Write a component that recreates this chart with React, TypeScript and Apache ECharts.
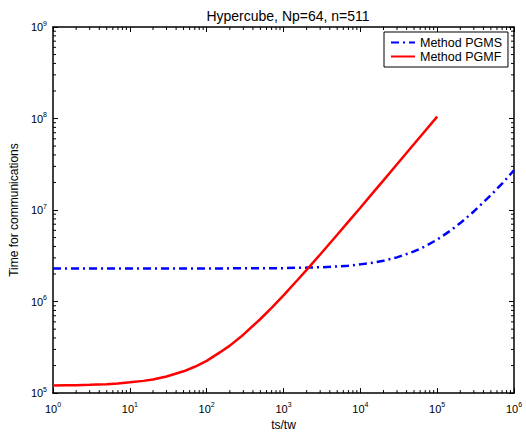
import React, { useEffect, useRef } from "react";
import * as echarts from "echarts";

const xPGMF = [1, 1.5, 2, 3, 5, 7, 10, 15, 20, 30, 50, 70, 100, 150, 200, 300, 500, 700, 1000, 1500, 2000, 3000, 5000, 7000, 1e4, 1.5e4, 2e4, 3e4, 5e4, 7e4, 1e5];
const yPGMF = [1.21e5, 1.22e5, 1.22e5, 1.23e5, 1.25e5, 1.27e5, 1.31e5, 1.36e5, 1.41e5, 1.52e5, 1.73e5, 1.94e5, 2.25e5, 2.8e5, 3.3e5, 4.35e5, 6.45e5, 8.55e5, 1.17e6, 1.7e6, 2.22e6, 3.27e6, 5.37e6, 7.47e6, 1.06e7, 1.59e7, 2.11e7, 3.16e7, 5.26e7, 7.36e7, 1.05e8];

const xPGMS = [1, 10, 100, 1000, 1500, 2000, 3000, 5000, 7000, 1e4, 1.5e4, 2e4, 3e4, 5e4, 7e4, 1e5, 1.5e5, 2e5, 3e5, 5e5, 7e5, 1e6];
const yPGMS = [2.3e6, 2.3e6, 2.3e6, 2.32e6, 2.34e6, 2.35e6, 2.37e6, 2.42e6, 2.47e6, 2.55e6, 2.67e6, 2.79e6, 3.04e6, 3.53e6, 4.02e6, 4.75e6, 5.98e6, 7.2e6, 9.65e6, 1.455e7, 1.945e7, 2.72e7];

const xMinorTicks: number[] = [];
for (let e = 0; e < 6; e++) for (let m = 2; m <= 9; m++) xMinorTicks.push(m * Math.pow(10, e));
const yMinorTicks: number[] = [];
for (let e = 5; e < 9; e++) for (let m = 2; m <= 9; m++) yMinorTicks.push(m * Math.pow(10, e));

const X_MIN = 1, X_MAX = 1e6, Y_MIN = 1e5, Y_MAX = 1e9;
const FONT = "Liberation Sans, Arial";

const fmt = (v: number) => `{b|10}{s|${Math.round(Math.log10(v))}}`;
const rich = {
  b: { fontSize: 11, color: "#000", fontFamily: FONT },
  s: { fontSize: 7, color: "#000", fontFamily: FONT, padding: [0, 0, 8, 0] },
};

export default function App() {
  const ref = useRef<HTMLDivElement>(null);
  useEffect(() => {
    if (!ref.current) return;
    const chart = echarts.init(ref.current, null, { renderer: "svg" });
    const axisLine = { show: true, lineStyle: { color: "#000", width: 1.5 } };
    const tick = { show: true, inside: true, length: 5, lineStyle: { color: "#000", width: 1 } };
    chart.setOption({
      animation: false,
      backgroundColor: "#fff",
      title: {
        text: "Hypercube, Np=64, n=511",
        left: 283, top: 4, textAlign: "center",
        textStyle: { fontSize: 14, fontWeight: "normal", color: "#000", fontFamily: FONT },
      },
      legend: {
        orient: "vertical",
        left: 384, top: 32,
        data: ["Method PGMS", "Method PGMF"],
        backgroundColor: "#fff",
        borderColor: "#000", borderWidth: 1,
        padding: [4, 6, 4, 6],
        itemGap: 1,
        itemWidth: 24, itemHeight: 12,
        itemStyle: { opacity: 0 },
        textStyle: { fontSize: 12.5, color: "#000", fontFamily: FONT },
      },
      grid: { left: 47, top: 27, width: 467, height: 368, containLabel: false },
      xAxis: [
        {
          type: "log", min: X_MIN, max: X_MAX, logBase: 10, position: "bottom",
          name: "ts/tw", nameLocation: "middle", nameGap: 20,
          nameTextStyle: { fontSize: 12, color: "#000", fontFamily: FONT },
          axisLine, axisTick: tick, splitLine: { show: false },
          axisLabel: { formatter: fmt, rich, margin: 8 },
        },
        {
          type: "log", min: X_MIN, max: X_MAX, logBase: 10, position: "top",
          axisLine, axisTick: tick, splitLine: { show: false }, axisLabel: { show: false },
        },
      ],
      yAxis: [
        {
          type: "log", min: Y_MIN, max: Y_MAX, logBase: 10, position: "left",
          name: "Time for communications", nameLocation: "middle", nameGap: 23, nameRotate: 90,
          nameTextStyle: { fontSize: 12, color: "#000", fontFamily: FONT },
          axisLine, axisTick: tick, splitLine: { show: false },
          axisLabel: { formatter: fmt, rich, margin: 6 },
        },
        {
          type: "log", min: Y_MIN, max: Y_MAX, logBase: 10, position: "right",
          axisLine, axisTick: tick, splitLine: { show: false }, axisLabel: { show: false },
        },
      ],
      series: [
        {
          name: "Method PGMS", type: "line",
          data: xPGMS.map((x, i) => [x, yPGMS[i]]),
          showSymbol: false, symbol: "none",
          lineStyle: { color: "#0000ff", width: 2.5, type: [8, 4, 2, 4] },
          itemStyle: { color: "#0000ff" },
          z: 3,
        },
        {
          name: "Method PGMF", type: "line",
          data: xPGMF.map((x, i) => [x, yPGMF[i]]),
          showSymbol: false, symbol: "none",
          lineStyle: { color: "#ff0000", width: 2.5 },
          itemStyle: { color: "#ff0000" },
          z: 3,
        },
        {
          name: "xminor", type: "custom",
          data: xMinorTicks.map((v) => [v, Y_MIN]),
          encode: { x: 0, y: 1 },
          silent: true, clip: false,
          renderItem: (params: any, api: any) => {
            const v = api.value(0);
            const b = api.coord([v, Y_MIN]);
            const t = api.coord([v, Y_MAX]);
            const st = { stroke: "#000", lineWidth: 1 };
            return {
              type: "group",
              children: [
                { type: "line", shape: { x1: b[0], y1: b[1], x2: b[0], y2: b[1] - 3 }, style: st },
                { type: "line", shape: { x1: t[0], y1: t[1], x2: t[0], y2: t[1] + 3 }, style: st },
              ],
            };
          },
        },
        {
          name: "yminor", type: "custom",
          data: yMinorTicks.map((v) => [X_MIN, v]),
          encode: { x: 0, y: 1 },
          silent: true, clip: false,
          renderItem: (params: any, api: any) => {
            const v = api.value(1);
            const l = api.coord([X_MIN, v]);
            const r = api.coord([X_MAX, v]);
            const st = { stroke: "#000", lineWidth: 1 };
            return {
              type: "group",
              children: [
                { type: "line", shape: { x1: l[0], y1: l[1], x2: l[0] + 3, y2: l[1] }, style: st },
                { type: "line", shape: { x1: r[0], y1: r[1], x2: r[0] - 3, y2: r[1] }, style: st },
              ],
            };
          },
        },
      ],
    });
    return () => chart.dispose();
  }, []);
  return <div ref={ref} style={{ width: 526, height: 436, position: "absolute", left: 0, top: 0 }} />;
}
